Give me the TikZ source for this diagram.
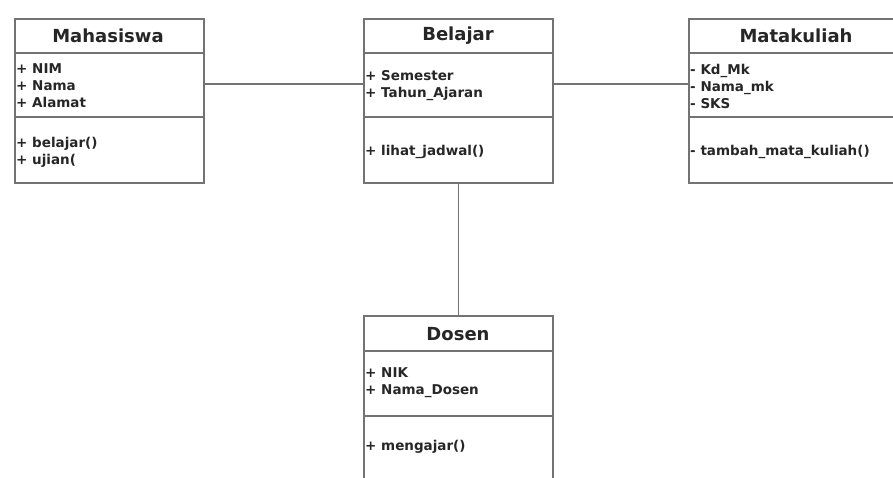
\documentclass[tikz,border=0pt]{standalone}
\usepackage{fontspec}
\setmainfont{DejaVu Sans}
\begin{document}
\begin{tikzpicture}[x=1pt,y=-1pt,
  line/.style={draw=black!55, line width=1.6pt},
  classbox/.style={line, fill=white, rectangle, inner sep=0pt, anchor=north west},
  ctitle/.style={font=\fontsize{18}{20}\selectfont\bfseries, text=black!85, inner sep=0pt},
  members/.style={font=\fontsize{13.5}{17}\selectfont\bfseries, text=black!85, align=left, anchor=west, inner sep=0pt}
]
\useasboundingbox (0,0) rectangle (893,478);
\fill[white] (0,0) rectangle (893,478);
\clip (0,0) rectangle (893,478);

% class boxes
\node[classbox, minimum width=189pt, minimum height=164pt] (maha) at (14,18) {};
\node[classbox, minimum width=189pt, minimum height=164pt] (bel) at (363,18) {};
\node[classbox, minimum width=222pt, minimum height=164pt] (mk) at (688,18) {};
\node[classbox, minimum width=189pt, minimum height=180pt] (dos) at (363,315) {};

% compartments
\foreach \b in {maha,bel,mk}{
  \draw[line] (\b.west |- 0,53) -- (\b.east |- 0,53);
  \draw[line] (\b.west |- 0,117) -- (\b.east |- 0,117);
}
\draw[line] (dos.west |- 0,351) -- (dos.east |- 0,351);
\draw[line] (dos.west |- 0,416) -- (dos.east |- 0,416);

% titles
\node[ctitle] (mahaT) at (108,36) {Mahasiswa};
\node[ctitle] (belT) at (458,36) {Belajar};
\node[ctitle] (mkT) at (796,36) {Matakuliah};
\node[ctitle] (dosT) at (458,334) {Dosen};

% members
\node[members] (mahaA) at (16,86) {+ NIM\\+ Nama\\+ Alamat};
\node[members] (mahaM) at (16,152) {+ belajar()\\+ ujian(};
\node[members] (belA) at (365,86) {+ Semester\\+ Tahun\_Ajaran};
\node[members] (belM) at (365,152) {+ lihat\_jadwal()};
\node[members] (mkA) at (690,86) {- Kd\_Mk\\- Nama\_mk\\- SKS};
\node[members] (mkM) at (690,152) {- tambah\_mata\_kuliah()};
\node[members] (dosA) at (365,383) {+ NIK\\+ Nama\_Dosen};
\node[members] (dosM) at (365,447) {+ mengajar()};

% connectors
\path (maha.north east) ++(0,66) coordinate (m1);
\draw[line] (m1) -- (bel.west |- m1);
\draw[line] (bel.east |- m1) -- (mk.west |- m1);
\draw[line] (bel.south) -- (dos.north);
\end{tikzpicture}
\end{document}
